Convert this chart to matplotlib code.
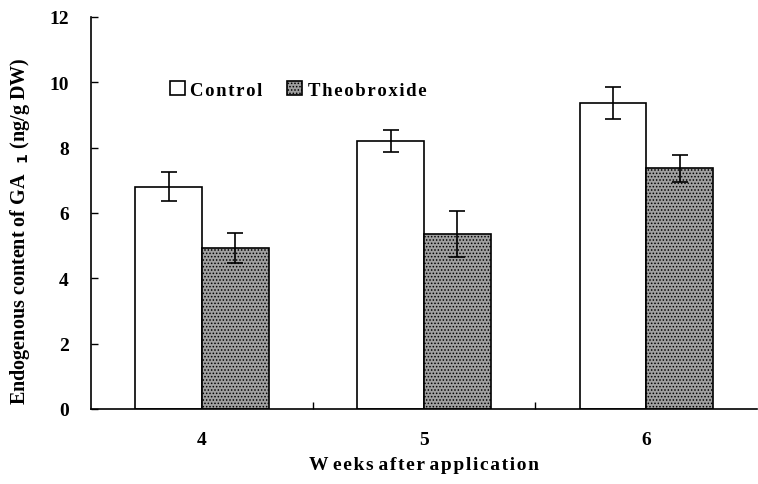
import numpy as np
import matplotlib
matplotlib.use('Agg')
import matplotlib.pyplot as plt

weeks = ['4', '5', '6']
control = [6.8, 8.2, 9.35]
control_err = [0.44, 0.35, 0.49]
theo = [4.92, 5.35, 7.37]
theo_err = [0.45, 0.7, 0.41]


def spaced(s):
    # imitate the wide letter spacing of the original
    return '\u200a'.join(s)


plt.rcParams['font.family'] = ['Liberation Serif', 'DejaVu Serif']
plt.rcParams['font.weight'] = 'bold'
plt.rcParams['hatch.color'] = '#4a4a4a'
plt.rcParams['hatch.linewidth'] = 0.7

fig = plt.figure(figsize=(7.58, 4.85), dpi=100)
ax = fig.add_axes([0.12, 0.155, 0.879, 0.808])

x = np.arange(len(weeks))
w = 0.3
ax.bar(x - w / 2, control, w, color='white', edgecolor='black', linewidth=1.2,
       yerr=control_err, capsize=6, error_kw=dict(elinewidth=1.2, capthick=1.2),
       label=spaced('Control'))
ax.bar(x + w / 2, theo, w, color='#a0a0a0', edgecolor='black', linewidth=1.2,
       hatch='.....', yerr=theo_err, capsize=6,
       error_kw=dict(elinewidth=1.2, capthick=1.2), label=spaced('Theobroxide'))

ax.set_xlim(-0.5, 2.5)
ax.set_ylim(0, 12)
ax.set_yticks(range(0, 13, 2))
ax.set_xticks(x)
ax.set_xticklabels(weeks)
ax.set_xticks([0.5, 1.5], minor=True)
ax.tick_params(axis='x', which='major', length=0, pad=16, labelsize=14)
ax.tick_params(axis='x', which='minor', direction='in', length=5, width=1)
ax.tick_params(axis='y', direction='in', length=5, width=1, labelsize=14, pad=16)
for lab in ax.get_xticklabels() + ax.get_yticklabels():
    lab.set_fontweight('bold')

ax.spines['top'].set_visible(False)
ax.spines['right'].set_visible(False)
ax.spines['left'].set_linewidth(1.2)
ax.spines['bottom'].set_linewidth(1.2)

ax.set_xlabel('W ' + spaced('eeks') + ' ' + spaced('after') + ' ' + spaced('application'),
              fontsize=14, fontweight='bold', labelpad=6)
ax.set_ylabel(r'Endogenous content of GA  $_{\mathbf{1}}$ (ng/g DW)', fontsize=14.5,
              fontweight='bold')
ax.yaxis.set_label_coords(-0.088, 0.455)

ax.legend(loc='upper left', bbox_to_anchor=(0.093, 0.88), ncol=2, frameon=False,
          prop=dict(size=13.5, weight='bold'), handlelength=0.8, handleheight=0.8,
          handletextpad=0.3, columnspacing=1.3)

fig.savefig('out.png', dpi=100)
